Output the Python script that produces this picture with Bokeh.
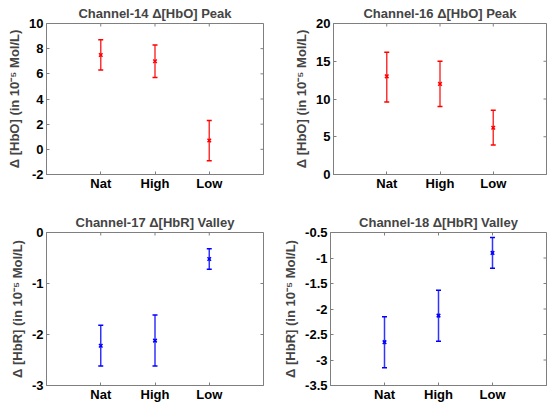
import math
from bokeh.plotting import figure
from bokeh.layouts import column, row
from bokeh.models import ColumnDataSource, Whisker, TeeHead, FixedTicker, Spacer
from bokeh.embed import file_html
from bokeh.resources import INLINE

categories = ["Nat", "High", "Low"]

ch14_mean = [7.5, 7.0, 0.7]
ch14_low = [6.3, 5.7, -0.9]
ch14_up = [8.7, 8.3, 2.3]

ch16_mean = [13.0, 12.0, 6.2]
ch16_low = [9.6, 9.0, 3.9]
ch16_up = [16.2, 15.0, 8.5]

ch17_mean = [-2.22, -2.12, -0.52]
ch17_low = [-2.62, -2.62, -0.72]
ch17_up = [-1.82, -1.62, -0.32]

ch18_mean = [-2.65, -2.13, -0.90]
ch18_low = [-3.15, -2.63, -1.20]
ch18_up = [-2.15, -1.63, -0.60]

ch14_yticks = [-2, 0, 2, 4, 6, 8, 10]
ch14_ylabels = ["-2", "0", "2", "4", "6", "8", "10"]
ch16_yticks = [0, 5, 10, 15, 20]
ch16_ylabels = ["0", "5", "10", "15", "20"]
ch17_yticks = [-3, -2, -1, 0]
ch17_ylabels = ["-3", "-2", "-1", "0"]
ch18_yticks = [-3.5, -3, -2.5, -2, -1.5, -1, -0.5]
ch18_ylabels = ["-3.5", "-3", "-2.5", "-2", "-1.5", "-1", "-0.5"]

FONT = "Liberation Sans"
GRAY = "#7f7f7f"


def make(title, mean, low, up, yticks, ylabels, ylabel, color, w, h,
         bl, br, bt, bb):
    xs = list(range(1, len(categories) + 1))
    xmax = len(categories) + 1
    p = figure(width=w, height=h, x_range=(0, xmax),
               y_range=(yticks[0], yticks[-1]), output_backend="svg",
               toolbar_location=None, min_border_left=bl, min_border_right=br,
               min_border_top=bt, min_border_bottom=bb)
    p.background_fill_color = "white"
    p.border_fill_color = "white"
    p.outline_line_color = GRAY
    p.grid.visible = False
    p.title.text = title
    p.title.text_font = FONT
    p.title.text_font_size = "13px"
    p.title.text_font_style = "bold"
    p.title.align = "center"
    p.title.standoff = 6
    p.title.offset = 0

    # mirrored ticks on right and top edges (box on)
    p.scatter(x=[xmax] * len(yticks), y=yticks, marker="dash", size=6,
              line_color=GRAY, line_width=1)
    p.scatter(x=xs, y=[yticks[-1]] * len(xs), marker="dash", size=6,
              angle=math.pi / 2, line_color=GRAY, line_width=1)

    src = ColumnDataSource(dict(x=xs, y=mean, lower=low, upper=up))
    wh = Whisker(source=src, base="x", lower="lower", upper="upper",
                 line_color=color, line_width=1.5, line_alpha=0.8,
                 upper_head=TeeHead(size=5, line_color=color, line_width=1.5),
                 lower_head=TeeHead(size=5, line_color=color, line_width=1.5))
    p.add_layout(wh)
    p.scatter("x", "y", source=src, marker="x", size=5, line_color=color,
              line_width=1.5)

    p.xaxis.ticker = FixedTicker(ticks=xs)
    p.xaxis.major_label_overrides = {x: c for x, c in zip(xs, categories)}
    p.yaxis.ticker = FixedTicker(ticks=yticks)
    p.yaxis.major_label_overrides = {t: l for t, l in zip(yticks, ylabels)}
    p.yaxis.axis_label = ylabel

    for ax in p.axis:
        ax.axis_line_color = GRAY
        ax.major_tick_line_color = GRAY
        ax.major_tick_in = 3
        ax.major_tick_out = 0
        ax.minor_tick_line_color = None
        ax.major_label_text_font = FONT
        ax.major_label_text_font_size = "13px"
        ax.major_label_text_font_style = "bold"
        ax.major_label_text_color = "black"
        ax.axis_label_text_font = FONT
        ax.axis_label_text_font_size = "13px"
        ax.axis_label_text_font_style = "bold"
    p.xaxis.major_label_standoff = 1
    p.yaxis.major_label_standoff = 3
    p.yaxis.axis_label_standoff = 4
    return p


ylab_o = "\u0394 [HbO] (in 10\u207b\u2075 Mol/L)"
ylab_r = "\u0394 [HbR] (in 10\u207b\u2075 Mol/L)"
red = "#ff0000"
blue = "#0000ff"

p1 = make("Channel-14 \u0394[HbO] Peak", ch14_mean, ch14_low, ch14_up,
          ch14_yticks, ch14_ylabels, ylab_o, red, 271, 200, 42, 12, 22, 26)
p2 = make("Channel-16 \u0394[HbO] Peak", ch16_mean, ch16_low, ch16_up,
          ch16_yticks, ch16_ylabels, ylab_o, red, 260, 200, 39, 5, 22, 26)
p3 = make("Channel-17 \u0394[HbR] Valley", ch17_mean, ch17_low, ch17_up,
          ch17_yticks, ch17_ylabels, ylab_r, blue, 271, 207, 42, 12, 32, 22)
p4 = make("Channel-18 \u0394[HbR] Valley", ch18_mean, ch18_low, ch18_up,
          ch18_yticks, ch18_ylabels, ylab_r, blue, 276, 207, 55, 5, 32, 22)

layout = column(
    row(Spacer(width=4, height=200), p1, Spacer(width=16, height=200), p2),
    row(Spacer(width=4, height=207), p3, p4),
)

open("out.html", "w").write(file_html(layout, INLINE))
